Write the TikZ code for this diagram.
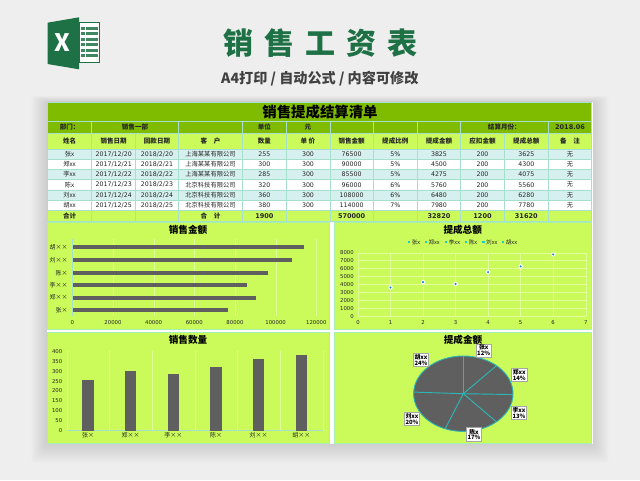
\documentclass[tikz,border=0pt]{standalone}
\usepackage{fontspec}
\setmainfont{DejaVu Sans}
\newfontfamily\cjk{Noto Sans CJK SC}
\definecolor{bgc}{HTML}{EEEEEE}
\definecolor{xlgreen}{HTML}{1E7145}
\definecolor{band}{HTML}{7FBC00}
\definecolor{lime}{HTML}{CBFB5A}
\definecolor{rowc}{HTML}{D5F0EE}
\definecolor{gridc}{HTML}{A6E0CC}
\definecolor{frame}{HTML}{A5EFB0}
\definecolor{barc}{HTML}{5F5F5F}
\definecolor{paleline}{HTML}{E2FF9C}
\definecolor{teal}{HTML}{2FB5B5}
\definecolor{txt}{HTML}{262626}
\newcommand{\fs}[1]{\fontsize{#1}{#1}\selectfont}
\tikzset{
 cell/.style={text=txt,inner sep=0pt,font=\fs{4.7}},
 boldcell/.style={cell,font=\fs{4.9}\bfseries},
 charttitle/.style={inner sep=0pt,text=black,font=\cjk\fs{7.2}\bfseries},
 tick/.style={inner sep=0pt,text=txt,font=\fs{4}},
 cat/.style={inner sep=0pt,text=txt,font=\cjk\fs{4.5}},
 bar/.style={fill=barc,draw=none},
 paleln/.style={draw=paleline,line width=.3pt},
 panel/.style={fill=lime,draw=frame,line width=.6pt},
 tag/.style={fill=white,draw=gray!70,line width=.45pt,inner sep=.9pt,align=center,text=black,font=\cjk\fs{4.4}\bfseries},
}
% columns: left edge list
\def\colx{{47.5,91.7,135.7,178.3,242.7,286,330,373.3,417.3,460.7,504.3,548.3,591.7}}
% one row of twelve cells at height #1; columns 1,4,12 carry Chinese text
\newcommand{\DataRow}[3]{%
 \foreach \t [count=\i] in {#3}{%
  \pgfmathsetmacro{\xa}{\colx[\i-1]}\pgfmathsetmacro{\xb}{\colx[\i]}%
  \pgfmathtruncatemacro{\isc}{(\i==1)||(\i==4)||(\i==12)}%
  \node[#2] (r#1c\i) at ({(\xa+\xb)/2},#1) {\ifnum\isc=1 \cjk\fi\t};
 }}
\newcommand{\HeadRow}[3]{%
 \foreach \t [count=\i] in {#3}{%
  \pgfmathsetmacro{\xa}{\colx[\i-1]}\pgfmathsetmacro{\xb}{\colx[\i]}%
  \node[#2] (h#1c\i) at ({(\xa+\xb)/2},#1) {\cjk\t};
 }}
\begin{document}
\begin{tikzpicture}[x=0.75pt,y=-0.75pt]
\useasboundingbox (0,0) rectangle (640,480);
\fill[bgc] (0,0) rectangle (640,480);
% soft shadow round the sheet
\foreach \d in {1,...,16}{
 \fill[black,opacity=.008,rounded corners=3pt] (47-\d,102-\d*.4) rectangle (593+\d,444+\d*1.2);
}
\fill[white] (47,101.5) rectangle (592.5,444);
% ---- header: logo
\fill[white] (79,22.7) rectangle (100,63);
\draw[xlgreen,line width=.8pt] (79,22.9) rectangle (99.7,62.8);
\foreach \y in {26.5,32,37.5,43,48.5,54}{\fill[xlgreen!85] (80.5,\y) rectangle (85,\y+3.4);\fill[xlgreen!85] (86.2,\y) rectangle (98,\y+3.4);}
\fill[xlgreen] (47.5,22.7) -- (79,17.3) -- (79,69.3) -- (47.5,64) -- cycle;
\node[inner sep=0pt,text=white,font=\cjk\fs{18}\bfseries] (xl) at (62.3,42.7) {X};
% ---- header: titles
\node[inner sep=0pt,text=xlgreen,font=\cjk\fs{22.5}\bfseries] (mt) at (320.7,43) {销\hspace{8.3pt}售\hspace{8.3pt}工\hspace{8.3pt}资\hspace{8.3pt}表};
\node[inner sep=0pt,text=black!75,font=\cjk\fs{10.6}\bfseries] (st) at (319.8,79) {A4打印 / 自动公式 / 内容可修改};
% ---- table bands
\fill[band] (47.5,102) rectangle (591.7,133);
\fill[lime] (47.5,133) rectangle (591.7,149);
\foreach \a/\b/\c in {149/159.3/rowc,159.3/169.5/white,169.5/179.7/rowc,179.7/190/white,190/200.3/rowc,200.3/210.7/white}{
 \fill[\c] (47.5,\a) rectangle (591.7,\b);
}
\fill[lime] (47.5,210.7) rectangle (591.7,221);
% table rules
\draw[gridc,line width=.5pt] (47.5,102) rectangle (591.7,221);
\foreach \y in {121,133,149,159.3,169.5,179.7,190,200.3,210.7}{\draw[gridc,line width=.4pt] (47.5,\y) -- (591.7,\y);}
\foreach \x in {91.7,135.7,178.3,242.7,286,330,373.3,417.3,460.7,504.3,548.3}{\draw[gridc,line width=.4pt] (\x,133) -- (\x,221);}
\foreach \x in {91.7,178.3,242.7,286,330,373.3,417.3,460.7,548.3}{\draw[gridc,line width=.4pt] (\x,121) -- (\x,133);}
% table text
\node[inner sep=0pt,text=black,font=\cjk\fs{10.8}\bfseries] (tt) at (320,112) {销售提成结算清单};
\node[boldcell] (d1) at (69.6,127) {\cjk 部门：};
\node[boldcell] (d2) at (135,127) {\cjk 销售一部};
\node[boldcell] (d3) at (264.3,127) {\cjk 单位};
\node[boldcell] (d4) at (308,127) {\cjk 元};
\node[boldcell] (d5) at (504.3,127) {\cjk 结算月份：};
\node[boldcell] (d6) at (570,127) {2018.06};
\HeadRow{141}{boldcell}{姓名,销售日期,回款日期,客　户,数量,单 价,销售金额,提成比例,提成金额,应扣金额,提成总额,备　注}
\DataRow{154.1}{cell}{张x,2017/12/20,2018/2/20,上海某某有限公司,255,300,76500,5\%,3825,200,3625,无}
\DataRow{164.4}{cell}{郑xx,2017/12/21,2018/2/21,上海某某有限公司,300,300,90000,5\%,4500,200,4300,无}
\DataRow{174.6}{cell}{李xx,2017/12/22,2018/2/22,上海某某有限公司,285,300,85500,5\%,4275,200,4075,无}
\DataRow{184.8}{cell}{陈x,2017/12/23,2018/2/23,北京科技有限公司,320,300,96000,6\%,5760,200,5560,无}
\DataRow{195.1}{cell}{刘xx,2017/12/24,2018/2/24,北京科技有限公司,360,300,108000,6\%,6480,200,6280,无}
\DataRow{205.5}{cell}{胡xx,2017/12/25,2018/2/25,北京科技有限公司,380,300,114000,7\%,7980,200,7780,无}
\DataRow{215.8}{boldcell}{合计,,,合　计,1900,,570000,,32820,1200,31620,}
% ---- panels
\draw[panel] (47.5,222.5) rectangle (329.5,329.5);
\draw[panel] (334,222.5) rectangle (591.7,329);
\draw[panel] (47.5,332.5) rectangle (329.5,443);
\draw[panel] (334,332) rectangle (591.7,443);
% ---- chart 1: horizontal bars (values in thousands)
\node[charttitle] (t1) at (188,230) {销售金额};
\foreach \v in {20,40,...,120}{\draw[paleln] ({72.7+\v*2.0333},239) -- ({72.7+\v*2.0333},316);}
\draw[gridc,line width=.5pt] (72.7,239) -- (72.7,316);
\foreach \n/\v/\y in {张×/76.5/310.3,郑××/90/297.7,李××/85.5/285,陈×/96/272.7,刘××/108/260,胡××/114/247.3}{
 \fill[bar] (72.7,\y-1.9) rectangle ({72.7+\v*2.0333},\y+1.9);
 \node[cat,anchor=east] (a\v) at (68,\y) {\n};
}
\foreach \v/\l in {0/0,20/20000,40/40000,60/60000,80/80000,100/100000,120/120000}{\node[tick] (ax\v) at ({72.3+\v*2.0333},322.7) {\l};}
% ---- chart 2: scatter
\node[charttitle] (t2) at (462.7,229.7) {提成总额};
\foreach \v in {0,1000,...,8000}{
 \draw[paleln] (358,{316.3-\v*0.00795}) -- (585.7,{316.3-\v*0.00795});
 \node[tick,anchor=east] (sy\v) at (354,{316.3-\v*0.00795}) {\v};
}
\foreach \i in {0,...,7}{
 \draw[paleln] ({358+\i*32.53},252.7) -- ({358+\i*32.53},316.3);
 \node[tick] (sx\i) at ({358+\i*32.53},322.7) {\i};
}
\foreach \n/\x in {张x/409,郑xx/425.7,李xx/446,陈x/466,刘xx/483.3,胡xx/503}{
 \fill[teal!70!cyan] (\x-1.2,240.8) rectangle (\x+1.2,243.2);
 \node[cat,anchor=west,font=\cjk\fs{4.2}] (lg\x) at (\x+2.6,242) {\n};
}
\foreach \i/\v in {1/3625,2/4300,3/4075,4/5560,5/6280,6/7780}{
 \fill[white] ({358+\i*32.53},{316.3-\v*0.00795}) circle (2.2);
 \fill[cyan!70!blue] ({358+\i*32.53},{316.3-\v*0.00795}) circle (1.2);
}
% ---- chart 3: columns
\node[charttitle] (t3) at (188,339.7) {销售数量};
\foreach \i in {0,...,6}{\draw[paleln] ({66.7+\i*42.7},351.3) -- ({66.7+\i*42.7},430.7);}
\draw[gridc,line width=.5pt] (66.7,430.7) -- (323.3,430.7);
\foreach \v in {0,50,...,400}{\node[tick,anchor=east] (cy\v) at (62.5,{430.7-\v*0.1985}) {\v};}
\foreach \n/\v/\x in {张×/255/88,郑××/300/130.7,李××/285/173.3,陈×/320/216,刘××/360/258.7,胡××/380/301.3}{
 \fill[bar] (\x-5.7,{430.7-\v*0.1985}) rectangle (\x+5.7,430.7);
 \node[cat] (cx\v) at (\x,435.5) {\n};
}
% ---- chart 4: pie
\node[charttitle] (t4) at (463,339.5) {提成金额};
\fill[barc] (463.3,393.7) ellipse [x radius=49.7,y radius=37.7];
\foreach \c in {0,.1165,.2536,.3839,.5594,.7568}{
 \draw[teal,line width=.7pt] (463.3,393.7) -- ({463.3+49.7*sin(\c*360)},{393.7-37.7*cos(\c*360)});
}
\draw[teal,line width=.7pt] (463.3,393.7) ellipse [x radius=49.7,y radius=37.7];
\foreach \n/\p/\x/\y in {张x/12/483.7/350.5,郑xx/14/519.3/375,李xx/13/519/413,陈x/17/474/434.5,刘xx/20/412/419,胡xx/24/421/360}{
 \node[tag] (p\p) at (\x,\y) {\n\\\p\%};
}
\end{tikzpicture}
\end{document}
